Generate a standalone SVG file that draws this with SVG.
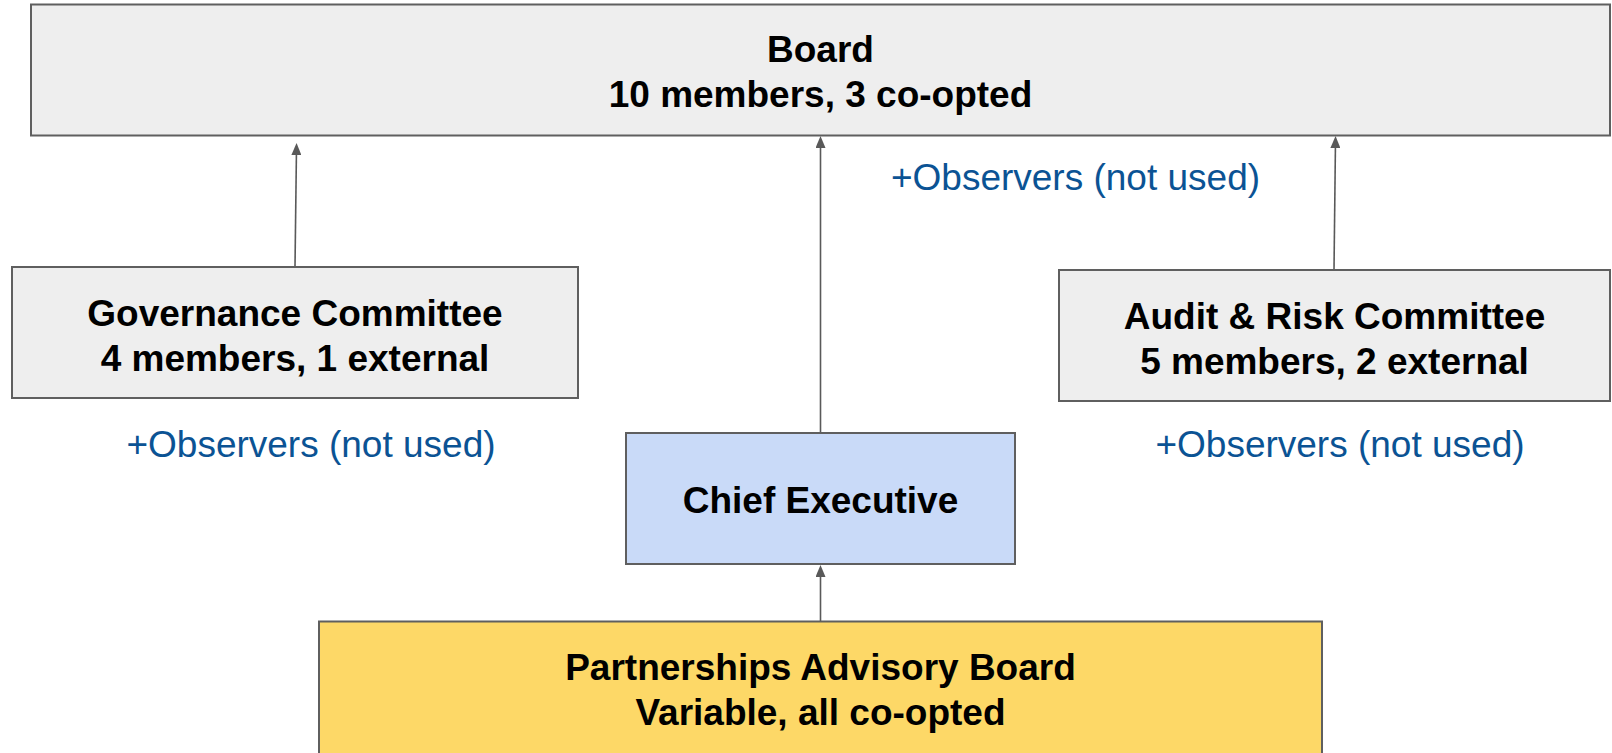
<svg xmlns="http://www.w3.org/2000/svg" width="1612" height="753" viewBox="0 0 1612 753">
  <style>
    .box { stroke: #5f5f5f; stroke-width: 2; }
    .grey { fill: #eeeeee; }
    .blue { fill: #c9daf8; }
    .yellow { fill: #fdd867; }
    .t { font-family: "Liberation Sans", Arial, sans-serif; font-size: 37px; font-weight: bold; fill: #000000; text-anchor: middle; }
    .obs { font-family: "Liberation Sans", Arial, sans-serif; font-size: 37px; fill: #0b5394; text-anchor: middle; }
    .conn { stroke: #595959; stroke-width: 1.6; fill: none; marker-end: url(#arrow); }
  </style>
  <defs>
    <marker id="arrow" markerUnits="userSpaceOnUse" markerWidth="12" markerHeight="10" viewBox="0 0 12 10" refX="8" refY="5" orient="auto">
      <path d="M0,0 L12,5 L0,10 z" fill="#595959"/>
    </marker>
  </defs>
  <rect width="1612" height="753" fill="#ffffff"/>

  <g id="connectors">
    <line class="conn" x1="295" y1="267" x2="296.5" y2="147"/>
    <line class="conn" x1="820.5" y1="433" x2="820.5" y2="140"/>
    <line class="conn" x1="1334" y1="270" x2="1335.5" y2="140"/>
    <line class="conn" x1="820.5" y1="621.5" x2="820.5" y2="569"/>
  </g>

  <g id="board">
    <rect class="box grey" x="31" y="4.5" width="1579" height="131"/>
    <text class="t" x="820.5" y="62">Board</text>
    <text class="t" x="820.5" y="107">10 members, 3 co-opted</text>
  </g>

  <g id="board-observers">
    <text class="obs" x="1075.5" y="190">+Observers (not used)</text>
  </g>

  <g id="governance">
    <rect class="box grey" x="12" y="267" width="566" height="131"/>
    <text class="t" x="295" y="326">Governance Committee</text>
    <text class="t" x="295" y="371">4 members, 1 external</text>
  </g>

  <g id="governance-observers">
    <text class="obs" x="311" y="457">+Observers (not used)</text>
  </g>

  <g id="audit">
    <rect class="box grey" x="1059" y="270" width="551" height="131"/>
    <text class="t" x="1334.5" y="329">Audit &amp; Risk Committee</text>
    <text class="t" x="1334.5" y="374">5 members, 2 external</text>
  </g>

  <g id="audit-observers">
    <text class="obs" x="1340" y="457">+Observers (not used)</text>
  </g>

  <g id="chief-executive">
    <rect class="box blue" x="626" y="433" width="389" height="131"/>
    <text class="t" x="820.5" y="513">Chief Executive</text>
  </g>

  <g id="partnerships">
    <rect class="box yellow" x="319" y="621.5" width="1003" height="140"/>
    <text class="t" x="820.5" y="680">Partnerships Advisory Board</text>
    <text class="t" x="820.5" y="725">Variable, all co-opted</text>
  </g>
</svg>
